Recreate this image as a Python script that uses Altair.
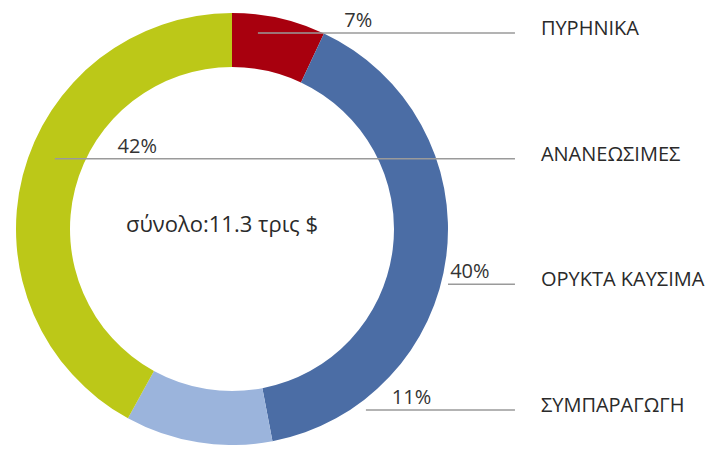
import altair as alt
import pandas as pd

# ---- data ----
categories = ["ΠΥΡΗΝΙΚΑ", "ΟΡΥΚΤΑ ΚΑΥΣΙΜΑ", "ΣΥΜΠΑΡΑΓΩΓΗ", "ΑΝΑΝΕΩΣΙΜΕΣ"]
shares = [7, 40, 11, 42]
legend_order = ["ΠΥΡΗΝΙΚΑ", "ΑΝΑΝΕΩΣΙΜΕΣ", "ΟΡΥΚΤΑ ΚΑΥΣΙΜΑ", "ΣΥΜΠΑΡΑΓΩΓΗ"]
colors = ["#A8000E", "#4B6DA5", "#9BB4DC", "#BCC818"]
total_label = "σύνολο:11.3 τρις $"

# ---- layout (annotation placement, in donut-radius units) ----
W, H = 706, 437
CX, CY = 224, 221
R_OUT, R_IN = 216, 162
leader_start = {"ΠΥΡΗΝΙΚΑ": 0.12, "ΑΝΑΝΕΩΣΙΜΕΣ": -0.82, "ΟΡΥΚΤΑ ΚΑΥΣΙΜΑ": 1.0, "ΣΥΜΠΑΡΑΓΩΓΗ": 0.62}
pct_left = {"ΠΥΡΗΝΙΚΑ": 0.52, "ΑΝΑΝΕΩΣΙΜΕΣ": -0.53, "ΟΡΥΚΤΑ ΚΑΥΣΙΜΑ": 1.01, "ΣΥΜΠΑΡΑΓΩΓΗ": 0.74}
leader_end = 1.31
name_left = 1.43
ROW_TOP, ROW_BOTTOM = 25, 402

df = pd.DataFrame({"cat": categories, "share": shares, "idx": list(range(len(categories)))})
df["pct"] = df["share"].astype(str) + "%"
df["row"] = df["cat"].map({c: i for i, c in enumerate(legend_order)})
df["x0"] = df["cat"].map(leader_start)
df["x1"] = leader_end
df["xp"] = df["cat"].map(pct_left)
df["xn"] = name_left

xscale = alt.Scale(domain=[-CX / R_OUT, (W - CX) / R_OUT], range=[0, W], nice=False, zero=False)
yscale = alt.Scale(domain=[0, len(legend_order) - 1], range=[ROW_TOP, ROW_BOTTOM], nice=False, zero=False)
cscale = alt.Scale(domain=categories, range=colors)

base = alt.Chart(df)

arcs = base.mark_arc(radius=R_OUT, radius2=R_IN, strokeWidth=0).encode(
    theta=alt.Theta("share:Q", stack=True),
    color=alt.Color("cat:N", scale=cscale, legend=None),
    order=alt.Order("idx:Q"),
    x=alt.value(CX),
    y=alt.value(CY),
)

rules = base.mark_rule(color="#9a9a9a", strokeWidth=1.5).encode(
    x=alt.X("x0:Q", scale=xscale, axis=None),
    x2="x1:Q",
    y=alt.Y("row:Q", scale=yscale, axis=None),
)

pct = base.mark_text(align="left", baseline="alphabetic", dy=-6, fontSize=20,
                     font="Open Sans", color="#333333").encode(
    x=alt.X("xp:Q", scale=xscale, axis=None),
    y=alt.Y("row:Q", scale=yscale, axis=None),
    text="pct:N",
)

names = base.mark_text(align="left", baseline="middle", dy=-4, fontSize=20,
                       font="Open Sans", color="#2a2a2a").encode(
    x=alt.X("xn:Q", scale=xscale, axis=None),
    y=alt.Y("row:Q", scale=yscale, axis=None),
    text="cat:N",
)

center = alt.Chart(pd.DataFrame({"t": [total_label]})).mark_text(
    align="center", baseline="middle", fontSize=22, font="Open Sans", color="#2a2a2a"
).encode(
    x=alt.value(CX - 10),
    y=alt.value(CY - 4),
    text="t:N",
)

chart = alt.layer(arcs, rules, pct, names, center).properties(
    width=W, height=H, autosize=alt.AutoSizeParams(type="none"), padding=0
).configure_view(stroke=None)

chart.save("out.html", embed_options={"renderer": "svg", "actions": False})
